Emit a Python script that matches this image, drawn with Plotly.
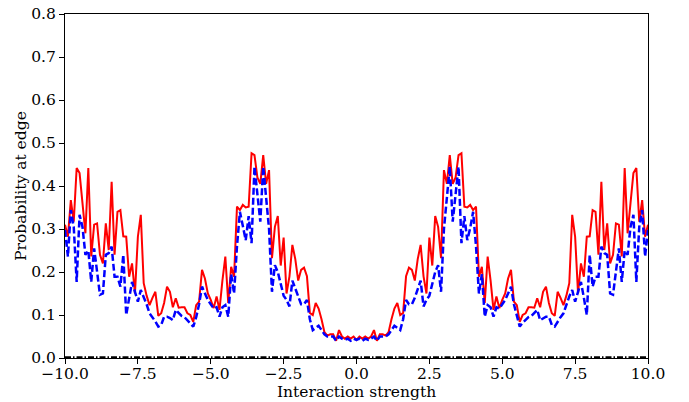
import plotly.graph_objects as go

# Positive-half sample positions (the curve is symmetric about 0)
x_half = [round(i * 0.1, 1) for i in range(101)]

red_half = [0.042, 0.05, 0.045, 0.05, 0.045, 0.05, 0.065, 0.04, 0.055, 0.055,
            0.052, 0.06, 0.09, 0.115, 0.128, 0.1, 0.105, 0.19, 0.21, 0.205,
            0.18, 0.23, 0.263, 0.19, 0.15, 0.28, 0.215, 0.33, 0.305, 0.232,
            0.437, 0.405, 0.472, 0.405, 0.42, 0.472, 0.476, 0.352, 0.35, 0.356,
            0.344, 0.352, 0.189, 0.212, 0.128, 0.236, 0.18, 0.112, 0.143, 0.116,
            0.135, 0.15, 0.185, 0.205, 0.131, 0.123, 0.084, 0.1, 0.104, 0.118,
            0.118, 0.117, 0.139, 0.118, 0.154, 0.166, 0.128, 0.104, 0.098, 0.154,
            0.14, 0.123, 0.145, 0.174, 0.333, 0.282, 0.15, 0.22, 0.189, 0.282,
            0.283, 0.344, 0.34, 0.24, 0.41, 0.251, 0.313, 0.22, 0.24, 0.313,
            0.31, 0.236, 0.442, 0.29, 0.36, 0.43, 0.442, 0.317, 0.367, 0.282,
            0.31]

blue_half = [0.042, 0.045, 0.04, 0.045, 0.042, 0.045, 0.05, 0.04, 0.05, 0.05,
             0.05, 0.055, 0.065, 0.075, 0.07, 0.065, 0.09, 0.135, 0.125, 0.125,
             0.14, 0.16, 0.18, 0.12, 0.135, 0.145, 0.17, 0.2, 0.216, 0.154,
             0.3, 0.38, 0.445, 0.317, 0.375, 0.445, 0.267, 0.33, 0.274, 0.302,
             0.34, 0.26, 0.15, 0.195, 0.096, 0.123, 0.118, 0.096, 0.118, 0.115,
             0.125, 0.135, 0.15, 0.166, 0.125, 0.095, 0.073, 0.082, 0.088, 0.095,
             0.098, 0.104, 0.112, 0.088, 0.093, 0.096, 0.096, 0.077, 0.073, 0.085,
             0.095, 0.104, 0.125, 0.143, 0.158, 0.131, 0.154, 0.177, 0.14, 0.1,
             0.24, 0.166, 0.189, 0.189, 0.259, 0.244, 0.24, 0.15, 0.147, 0.197,
             0.255, 0.177, 0.25, 0.24, 0.305, 0.333, 0.177, 0.305, 0.344, 0.236,
             0.298]

black_half = [0.002] * 101

# Mirror the symmetric halves to the full range [-10, 10]
x = [-v for v in x_half[::-1]] + x_half[1:]
red = red_half[::-1] + red_half[1:]
blue = blue_half[::-1] + blue_half[1:]
black = black_half[::-1] + black_half[1:]

x_ticks = [-10, -7.5, -5, -2.5, 0, 2.5, 5, 7.5, 10]
y_ticks = [0, 0.1, 0.2, 0.3, 0.4, 0.5, 0.6, 0.7, 0.8]

font_family = "DejaVu Serif"
font_size = 15.5

fig = go.Figure()
fig.add_trace(go.Scatter(x=x, y=red, mode="lines",
                         line=dict(color="#ff0000", width=2), showlegend=False))
fig.add_trace(go.Scatter(x=x, y=blue, mode="lines",
                         line=dict(color="#0000ff", width=2.5, dash="7px,3px"),
                         showlegend=False))
fig.add_trace(go.Scatter(x=x, y=black, mode="lines",
                         line=dict(color="#000000", width=2, dash="6px,2px,1.5px,2px"),
                         showlegend=False))

axis_common = dict(
    showgrid=False, zeroline=False, showline=True, linecolor="black", linewidth=1,
    mirror=True, ticks="outside", ticklen=5, tickwidth=1, tickcolor="black",
    automargin=False,
    tickfont=dict(family=font_family, size=font_size, color="black"),
)

fig.update_layout(
    width=689, height=402,
    margin=dict(l=65, r=41, t=14, b=44),
    paper_bgcolor="white", plot_bgcolor="white",
    font=dict(family=font_family, size=font_size, color="black"),
    xaxis=dict(range=[-10, 10], tickvals=x_ticks, tickformat=".1f",
               ticklabelstandoff=-4, **axis_common),
    yaxis=dict(range=[0, 0.8], tickvals=y_ticks, tickformat=".1f",
               title=dict(text="Probability at edge", standoff=0,
                          font=dict(family=font_family, size=font_size)),
               **axis_common),
    annotations=[dict(text="Interaction strength", xref="paper", yref="paper",
                      x=0.5, y=0, yshift=-34, xanchor="center", yanchor="middle",
                      showarrow=False,
                      font=dict(family=font_family, size=font_size, color="black"))],
)

fig.write_html("out.html")
